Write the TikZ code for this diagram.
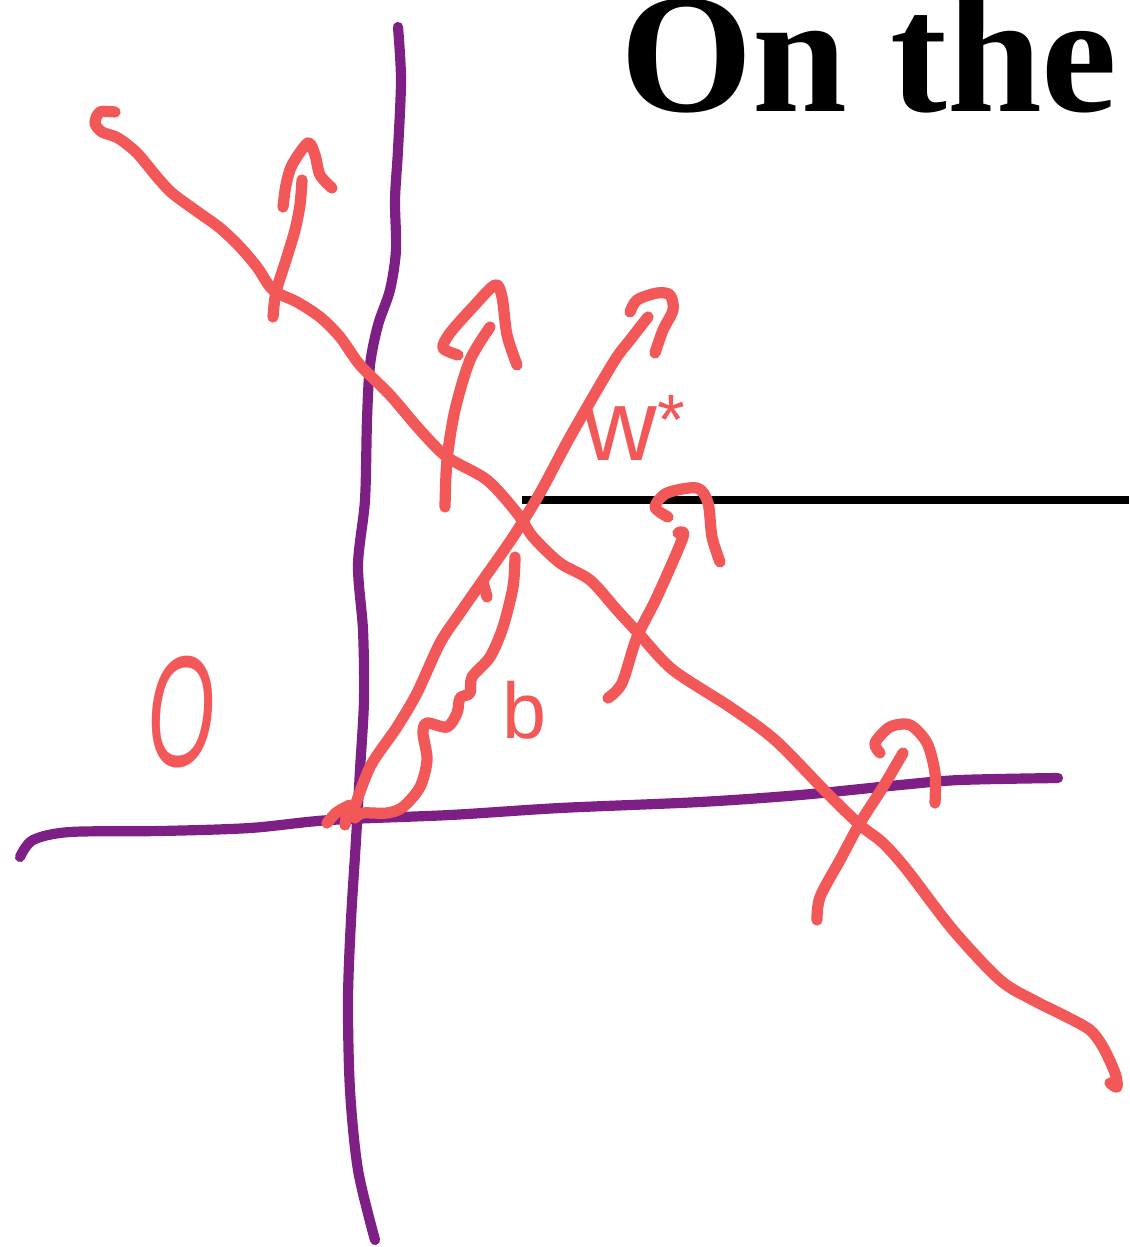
\documentclass[tikz,border=0pt]{standalone}
\usepackage{fontspec}
\setmainfont{Liberation Serif}
\newfontfamily\handfont{Liberation Sans}
\definecolor{penred}{RGB}{243,88,88}
\definecolor{penpurple}{RGB}{126,31,134}

\begin{document}
\begin{tikzpicture}[x=0.02cm,y=-0.02cm,
   pen/.style={draw=penred,line width=6.4pt,line cap=round,line join=round},
   axis/.style={draw=penpurple,line width=5.8pt,line cap=round,line join=round},
   hand/.style={text=penred,inner sep=0pt}]
  \useasboundingbox (0,0) rectangle (1129,1247);
  % title and rule behind the sketch
  \node[inner sep=0pt,anchor=base west,font=\fontsize{97}{97}\selectfont\bfseries]
       (title) at (620,112) {On the};
  \draw[line width=4.5pt] (522,500) -- (1129,500);
  % axes
  \draw[axis] plot[smooth] coordinates {(398,27) (401,80) (398,150) (395,200)
       (396,250) (390,290) (378,325) (370,365) (367,420) (365,500) (358,565)
       (363,630) (364,700) (360,770) (356,840) (351,920) (348,1000) (350,1090)
       (358,1170) (375,1240)};
  \draw[axis] plot[smooth] coordinates {(20,857) (33,840) (70,832) (160,831)
       (250,828) (330,820) (450,815) (560,808) (700,802) (800,795) (900,785)
       (960,780) (1058,778)};
  % separating line
  \draw[pen] plot[smooth] coordinates {(115,112) (100,112) (95,123) (102,132)
       (118,138) (137,153) (157,177) (172,193) (195,210) (220,228) (240,247)
       (257,267) (273,290) (297,302) (320,317) (340,337) (360,365) (390,395)
       (420,430) (447,457) (487,480) (517,513) (533,537) (560,563) (590,580)
       (617,610) (640,635) (673,670) (730,707) (775,740) (827,793) (860,825)
       (883,843) (907,870) (953,930) (1000,980) (1033,1000) (1067,1017)
       (1090,1030) (1103,1047) (1115,1073) (1117,1087) (1110,1083)};
  % normals
  \draw[pen] plot[smooth] coordinates {(273,317) (276,292) (286,260) (295,230)
       (300,205) (302,180)};
  \draw[pen] plot[smooth] coordinates {(283,207) (286,185) (292,165) (308,143)
       (315,155) (320,175) (332,188)};
  \draw[pen] plot[smooth] coordinates {(445,507) (447,460) (455,410) (470,360)
       (490,327)};
  \draw[pen] plot[smooth] coordinates {(458,355) (443,348) (450,333) (473,307)
       (495,285) (502,297) (507,335) (517,365)};
  \draw[pen] plot[smooth] coordinates {(608,698) (622,683) (637,637) (657,597)
       (683,537) (678,533)};
  \draw[pen] plot[smooth] coordinates {(668,517) (655,507) (667,493) (697,488)
       (708,503) (712,537) (720,562)};
  \draw[pen] plot[smooth] coordinates {(817,920) (820,897) (840,860) (860,823)
       (883,787) (903,753)};
  \draw[pen] plot[smooth] coordinates {(880,753) (875,743) (890,727) (910,725)
       (927,743) (935,773) (935,803)};
  % w* vector from the origin
  \draw[pen] plot[smooth] coordinates {(352,815) (370,767) (397,727) (417,693)
       (440,643) (460,613) (483,580) (513,537) (540,493) (570,437) (613,363)
       (630,340) (648,317)};
  \draw[pen] plot[smooth] coordinates {(630,312) (637,300) (657,293) (670,295)
       (673,310) (663,330) (655,353)};
  \draw[pen] (483,582) -- (487,597);
  % offset b
  \draw[pen] plot[smooth] coordinates {(515,557) (513,587) (503,627) (490,657)
       (472,677) (470,693) (460,698) (457,713) (447,727) (427,723) (423,733)
       (427,760) (420,787) (403,807) (387,813) (363,813) (355,818)};
  \draw[pen] plot[smooth] coordinates {(327,823) (337,812) (350,805)};
  \draw[pen] (345,825) -- (347,812);
  % labels
  \node[hand,xscale=0.55,font=\handfont\itshape\fontsize{90}{90}\selectfont]
       (origin) at (181,712) {O};
  \node[hand,font=\handfont\fontsize{45}{45}\selectfont] (blabel) at (524,710) {b};
  \node[hand,font=\handfont\fontsize{58}{58}\selectfont] (wlabel) at (635,428)
       {w\textsuperscript{*}};
\end{tikzpicture}
\end{document}
